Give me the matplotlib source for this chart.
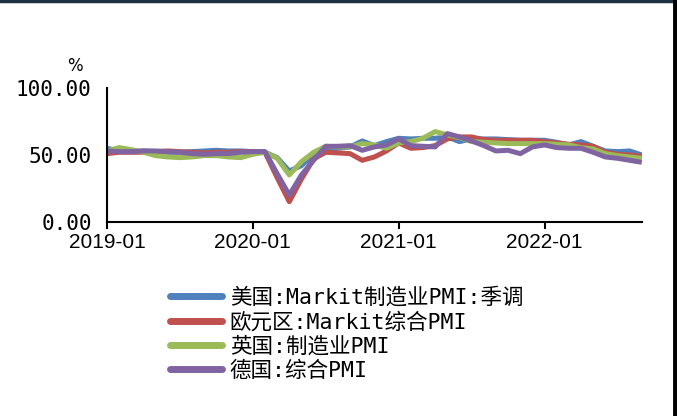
import matplotlib.pyplot as plt
import matplotlib.lines as mlines
import pandas as pd

months = pd.date_range("2019-01-01", "2022-09-01", freq="MS")
xi = list(range(len(months)))

us_mfg = [55, 53, 52.5, 53, 52.5, 52, 52, 52.5, 53, 53.5, 53, 53,
          52.5, 52, 48, 38, 42, 50, 53, 55, 56, 60.5, 57, 60,
          62.5, 62, 62.5, 62.5, 63.5, 60, 62, 62, 62, 61.5, 61, 61,
          61, 59.5, 57.5, 60, 56.5, 53, 52.5, 53, 50]
ez_comp = [51, 52, 52, 52, 52.5, 53, 52.5, 52, 51.5, 52, 52, 52.5,
           52.5, 52, 33, 15, 32, 47, 52, 51.5, 51, 46, 48.5, 53,
           59, 55, 55.5, 57, 62, 63.5, 63.5, 61.5, 61, 61, 61, 61,
           60, 59, 58, 57.5, 56.5, 52, 50.5, 50, 49]
uk_mfg = [53, 55.5, 54, 52, 49.5, 48.5, 48, 48.5, 49.5, 49.5, 48.5, 48,
          50.5, 52, 47.5, 35, 45, 52, 56.5, 56, 56, 58.5, 57.5, 55,
          59, 60, 62.5, 67.5, 65, 63, 60, 59.5, 59, 58.5, 58.5, 58.5,
          58.5, 58, 57.5, 55.5, 54.5, 51, 49.5, 48.5, 47.5]
de_comp = [53, 52.5, 52.5, 53, 53, 52.5, 52, 51, 50.5, 51, 51, 52,
           52.5, 52.5, 36, 20, 35, 46, 56.5, 56.5, 57, 53.5, 56, 57.5,
           62, 57, 56.5, 56, 66, 63.5, 60.5, 57, 53, 53.5, 51, 56,
           57.5, 55.5, 55, 55, 52, 48.5, 47.5, 46, 44.5]

labels = ["美国:Markit制造业PMI:季调", "欧元区:Markit综合PMI",
          "英国:制造业PMI", "德国:综合PMI"]
colors = ["#4F81BD", "#C0504D", "#9BBB59", "#8064A2"]

fig = plt.figure(figsize=(6.77, 4.16), dpi=100)
ax = fig.add_axes([0.158, 0.467, 0.79, 0.321])

for ys, c, lab in zip([us_mfg, ez_comp, uk_mfg, de_comp], colors, labels):
    ax.plot(xi, ys, color=c, lw=3.6, label=lab, solid_capstyle="butt")

ax.set_xlim(0, len(xi) - 1)
ax.set_ylim(0, 100)
ax.set_yticks([0, 50, 100])
ax.set_yticklabels(["0.00", "50.00", "100.00"], family="DejaVu Sans Mono", fontsize=15)
yr = [i for i, m in enumerate(months) if m.month == 1]
ax.set_xticks(yr)
ax.set_xticklabels([months[i].strftime("%Y-%m") for i in yr], family="Liberation Sans", fontsize=15)
ax.tick_params(axis="y", length=0, pad=11)
ax.tick_params(axis="x", length=5, width=1.5, direction="out", pad=3)
for s in ["top", "right"]:
    ax.spines[s].set_visible(False)
for s in ["left", "bottom"]:
    ax.spines[s].set_linewidth(1.5)

fig.text(0.11, 0.842, "%", fontsize=12, family="DejaVu Sans", ha="center", va="center")

handles, labs = ax.get_legend_handles_labels()
leg = fig.legend(handles, labs, loc="upper left", bbox_to_anchor=(0.238, 0.330),
                 frameon=False, handlelength=2.42, handletextpad=0.37, labelspacing=0.18,
                 borderaxespad=0, prop={"family": ["DejaVu Sans Mono", "Noto Sans CJK SC"], "size": 15.5})
for h in leg.get_lines():
    h.set_linewidth(5)
    h.set_solid_capstyle("round")

# frame pieces at the top and right edges
fig.add_artist(mlines.Line2D([0, 0.995], [0.997, 0.997], color="#1F3044", lw=2.5, transform=fig.transFigure))
fig.add_artist(mlines.Line2D([0.997, 0.997], [0, 1], color="black", lw=3.5, transform=fig.transFigure))

fig.savefig("out.png", dpi=100)
